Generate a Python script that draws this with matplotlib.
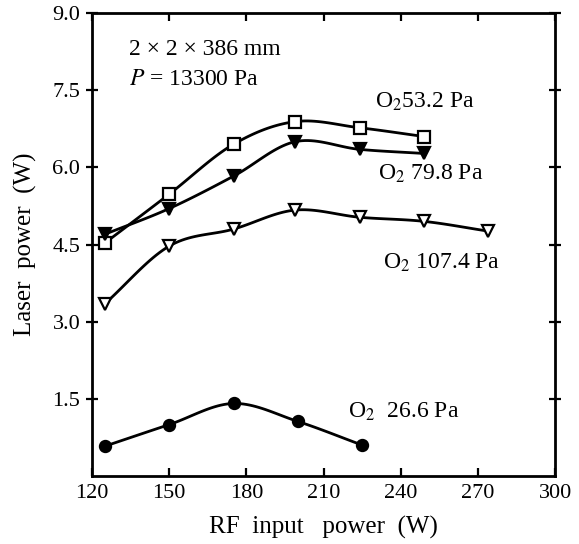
import numpy as np
import matplotlib
matplotlib.use("Agg")
import matplotlib.pyplot as plt

# Data
x_26 = [125, 150, 175, 200, 225]
y_26 = [0.58, 1.00, 1.41, 1.06, 0.60]

x_53 = [125, 150, 175, 199, 224, 249]
y_53 = [4.53, 5.48, 6.45, 6.89, 6.77, 6.60]

x_80 = [125, 150, 175, 199, 224, 249]
y_80 = [4.70, 5.20, 5.83, 6.50, 6.35, 6.27]

x_107 = [125, 150, 175, 199, 224, 249, 274]
y_107 = [3.35, 4.47, 4.80, 5.17, 5.03, 4.95, 4.76]

x_ticks = [120, 150, 180, 210, 240, 270, 300]
y_ticks = [1.5, 3.0, 4.5, 6.0, 7.5, 9.0]
y_tick_labels = ["1.5", "3.0", "4.5", "6.0", "7.5", "9.0"]

plt.rcParams['font.family'] = ['Liberation Serif', 'DejaVu Serif']
plt.rcParams['mathtext.fontset'] = 'stix'


def smooth(x, y, n=20):
    """Catmull-Rom curve through the given points."""
    x = np.asarray(x, float)
    y = np.asarray(y, float)
    pts = np.column_stack([x, y])
    P = np.vstack([2 * pts[0] - pts[1], pts, 2 * pts[-1] - pts[-2]])
    out = []
    t = np.linspace(0, 1, n, endpoint=False)[:, None]
    for i in range(1, len(P) - 2):
        p0, p1, p2, p3 = P[i - 1], P[i], P[i + 1], P[i + 2]
        seg = 0.5 * ((2 * p1) + (-p0 + p2) * t + (2 * p0 - 5 * p1 + 4 * p2 - p3) * t ** 2
                     + (-p0 + 3 * p1 - 3 * p2 + p3) * t ** 3)
        out.append(seg)
    out.append(pts[-1][None, :])
    c = np.vstack(out)
    return c[:, 0], c[:, 1]


fig = plt.figure(figsize=(5.79, 5.44), dpi=100)
ax = fig.add_axes([0.159, 0.125, 0.8, 0.851])

lw = 2.0
for xs, ys, m, fc, ms in [
    (x_26, y_26, 'o', 'black', 8),
    (x_53, y_53, 's', 'white', 8),
    (x_80, y_80, 'v', 'black', 9),
    (x_107, y_107, 'v', 'white', 9),
]:
    sx, sy = smooth(xs, ys)
    ax.plot(sx, sy, color='black', lw=lw, zorder=2)
    ax.plot(xs, ys, linestyle='none', marker=m, markersize=ms,
            markerfacecolor=fc, markeredgecolor='black', markeredgewidth=1.6, zorder=3)

ax.set_xlim(120, 300)
ax.set_ylim(0, 9.0)
ax.set_xticks(x_ticks)
ax.set_yticks(y_ticks)
ax.set_yticklabels(y_tick_labels)
ax.tick_params(axis='both', which='both', direction='in', length=6, width=1.6,
               labelsize=16, top=True, right=True, pad=6)
ax.tick_params(axis='y', direction='inout', length=9, pad=4)
for s in ax.spines.values():
    s.set_linewidth(2.0)

ax.set_xlabel('RF  input   power  (W)', fontsize=18, labelpad=9)
ax.set_ylabel('Laser  power  (W)', fontsize=18, labelpad=11)

fs = 17
ax.text(134.5, 8.3, '2 × 2 × 386 mm', fontsize=fs, va='center', ha='left')
ax.text(134.5, 7.7, '$P$ = 13300 Pa', fontsize=fs, va='center', ha='left')

ax.text(230, 7.28, 'O$_2$53.2 Pa', fontsize=fs, va='center', ha='left')
ax.text(231, 5.88, 'O$_2$ 79.8 Pa', fontsize=fs, va='center', ha='left')
ax.text(233, 4.14, 'O$_2$ 107.4 Pa', fontsize=fs, va='center', ha='left')
ax.text(219.5, 1.24, 'O$_2$  26.6 Pa', fontsize=fs, va='center', ha='left')

fig.savefig('out.png', dpi=100)
